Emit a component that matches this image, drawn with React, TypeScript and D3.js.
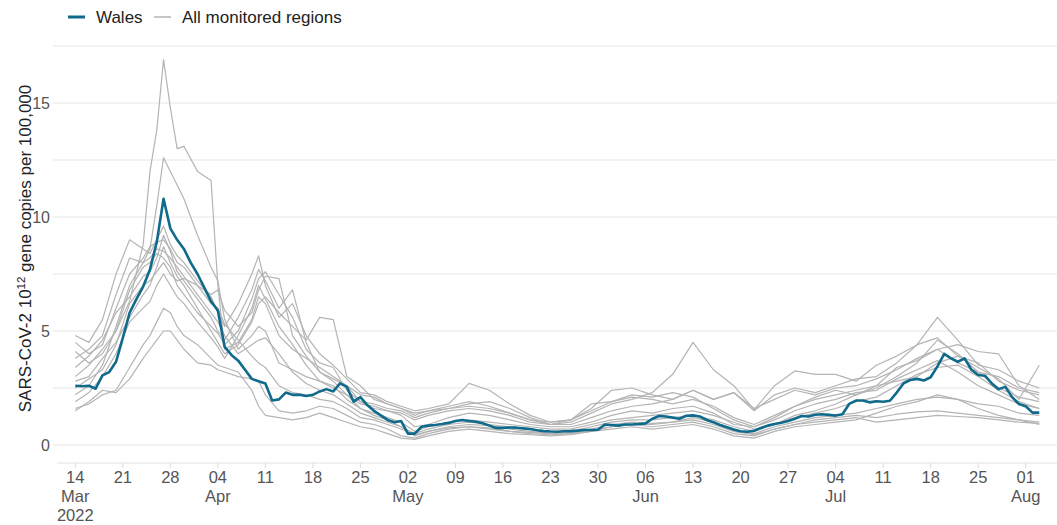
import React from 'react';
import * as d3 from 'd3';

const START = Date.UTC(2022, 2, 14);
const END_TICK = Date.UTC(2022, 7, 1);
const DAY = 86400000;

// Wales, daily from 14 Mar 2022
const WALES = [
  2.6, 2.58, 2.6, 2.47, 3.05, 3.2, 3.65, 4.7, 5.8, 6.4,
  6.95, 7.7, 8.9, 10.8, 9.5, 9.0, 8.6, 8.0, 7.5, 6.9,
  6.3, 5.9, 4.3, 3.95, 3.7, 3.3, 2.9, 2.8, 2.7, 1.95,
  2.0, 2.3, 2.2, 2.2, 2.15, 2.2, 2.35, 2.45, 2.35, 2.7,
  2.55, 1.9, 2.1, 1.75, 1.5, 1.3, 1.1, 1.0, 1.05, 0.5,
  0.5, 0.8, 0.85, 0.88, 0.92, 0.97, 1.05, 1.1, 1.05, 1.02,
  0.95, 0.85, 0.75, 0.75, 0.77, 0.76, 0.73, 0.7, 0.65, 0.61,
  0.59, 0.58, 0.6, 0.61, 0.63, 0.66, 0.66, 0.67, 0.9, 0.88,
  0.85, 0.9, 0.9, 0.92, 0.95, 1.15, 1.27, 1.25, 1.2, 1.15,
  1.28, 1.3, 1.25, 1.1, 1.0, 0.88, 0.78, 0.68, 0.6, 0.58,
  0.62, 0.75, 0.85, 0.92, 0.98, 1.05, 1.15, 1.27, 1.25, 1.33,
  1.35, 1.32, 1.29, 1.35, 1.8, 1.95, 1.95, 1.87, 1.92, 1.9,
  1.94, 2.3, 2.7, 2.85, 2.9, 2.83, 2.97, 3.45, 4.0, 3.8,
  3.65, 3.8, 3.3, 3.07, 3.04, 2.7, 2.45, 2.55, 2.1, 1.8,
  1.7, 1.42, 1.42,
];

// sample days (offset from 14 Mar 2022) for the other monitored regions
const GRAY_DAYS = [
  0, 2, 4, 6, 8, 10,
  11, 12, 13, 14, 15, 16,
  18, 20, 21, 22,
  24, 26, 27, 28,
  30, 32, 34, 36, 38, 40, 42, 44, 46, 48, 50, 52,
  55, 58, 61, 64, 67, 70, 73, 76, 79, 82, 85, 88, 91, 94, 97, 100,
  103, 106, 109, 112, 115, 118, 121, 124, 127, 130, 133, 136, 139, 142,
];

const REGION_A = [
  3.0, 3.5, 4.2, 5.0, 6.3, 8.8,
  12.0, 13.8, 16.9, 14.8, 13.0, 13.1,
  12.0, 11.6, 7.0, 4.2,
  4.5, 5.5, 6.5, 6.2,
  4.8, 4.2, 3.8, 3.4, 3.0, 2.6, 1.9, 1.6, 1.5, 1.3, 0.8, 0.9,
  1.2, 1.4, 1.3, 1.1, 0.9, 0.8, 0.8, 1.0, 1.3, 1.5, 1.4, 1.6, 1.7, 1.4, 0.9, 0.8,
  1.1, 1.5, 1.8, 2.0, 2.3, 2.4, 2.9, 3.3, 3.7, 3.2, 2.6, 2.2, 1.8, 1.6,
];
const REGION_B = [
  2.2, 2.6, 3.5, 5.2, 7.0, 8.0,
  8.6, 10.5, 12.6, 12.0, 11.4, 10.8,
  9.2, 7.8, 7.2, 5.5,
  4.2, 4.8, 5.2, 5.0,
  3.6, 3.3, 3.0, 2.8, 2.6, 2.0, 1.6, 1.4, 1.2, 1.0, 0.6, 0.8,
  1.0, 1.1, 1.0, 0.9, 0.8, 0.7, 0.7, 0.9, 1.1, 1.2, 1.3, 1.4, 1.5, 1.3, 1.0, 0.7,
  0.9, 1.3, 1.5, 1.8, 2.2, 2.5, 3.0, 3.6, 4.6, 4.0, 3.2, 2.5, 2.1, 1.9,
];
const REGION_C = [
  4.8, 4.5, 5.5, 7.5, 9.0, 8.6,
  8.4, 9.0, 9.6, 8.8, 8.3, 8.0,
  7.2, 6.5, 5.8, 5.2,
  6.2, 7.5, 8.3, 7.0,
  5.6, 6.2, 4.8, 4.0, 3.5, 2.9, 2.3, 2.2, 1.9, 1.7, 1.5, 1.6,
  1.8, 2.7, 2.4, 1.8, 1.3, 1.0, 1.1, 1.6, 2.4, 2.5, 2.2, 2.0, 2.4, 2.0, 2.3, 1.5,
  2.2, 2.5, 2.3, 2.6, 2.9, 3.0, 3.6, 4.4, 4.7, 3.9, 3.6, 2.8, 2.4, 2.2,
];
const REGION_D = [
  3.4, 3.9, 4.6, 5.8, 6.5, 7.4,
  7.6, 8.2, 9.2, 8.5, 7.6, 7.2,
  6.4, 5.6, 5.0, 4.6,
  5.6, 6.8, 7.7, 7.2,
  6.0, 6.8, 4.5, 3.2, 2.8, 2.2, 1.8, 1.7, 1.5, 1.4, 1.1, 1.3,
  1.5, 1.6, 1.5, 1.3, 1.0, 0.9, 1.0, 1.4, 1.8, 2.0, 2.3, 3.1, 4.5, 3.3, 2.6, 1.55,
  2.6, 3.25, 3.1, 3.1, 2.8, 3.5, 3.9, 4.4, 5.6, 4.6, 3.5, 3.3, 2.8, 2.5,
];
const REGION_E = [
  2.8, 3.0, 3.8, 4.5, 5.6, 6.6,
  7.0, 7.8, 8.7, 8.0, 7.4, 7.0,
  6.0, 5.0, 4.5, 4.0,
  4.4, 5.4, 6.2, 6.5,
  5.8, 5.2, 4.6, 5.6, 5.5, 3.0, 2.6, 2.0, 1.8, 1.6, 1.3, 1.5,
  1.7, 1.9, 1.7, 1.4, 1.1, 0.9, 0.9, 1.2, 1.5, 1.7, 1.8, 2.0, 2.4, 2.0, 2.3, 1.6,
  2.0, 2.4, 2.2, 2.5, 2.6, 2.9, 3.3, 3.8, 4.2, 4.4, 4.1, 4.0, 2.6, 2.0,
];
const REGION_F = [
  1.5, 1.9, 2.4, 2.3, 2.9, 3.8,
  4.2, 4.6, 5.0, 5.0, 4.6, 4.2,
  3.6, 3.5, 3.3, 3.2,
  3.0, 2.9, 2.8, 2.2,
  1.5, 1.4, 1.5, 1.7, 1.6, 1.3, 1.0, 0.9, 0.7, 0.4, 0.3, 0.5,
  0.7, 0.8, 0.7, 0.6, 0.5, 0.45, 0.5, 0.6, 0.8, 0.9, 0.8, 0.9, 1.0, 0.8, 0.5, 0.4,
  0.7, 0.9, 1.0, 1.1, 1.2, 1.0, 1.1, 1.2, 1.3, 1.25, 1.2, 1.1, 1.0, 0.95,
];
const REGION_G = [
  1.9, 2.3, 3.0, 4.0, 5.4, 6.0,
  6.3, 7.0, 7.5, 7.0, 6.5, 6.2,
  5.4, 4.7, 4.3, 3.8,
  4.8, 6.0, 7.0, 6.4,
  5.2, 4.4, 3.5, 2.8, 2.5, 2.2, 1.6, 1.3, 1.1, 0.8, 0.5, 0.7,
  0.9, 1.0, 0.9, 0.8, 0.7, 0.6, 0.6, 0.8, 1.0, 1.1, 1.1, 1.2, 1.3, 1.1, 0.8, 0.6,
  0.9, 1.2, 1.4, 1.6, 1.9, 2.1, 2.6, 3.1, 3.4, 3.5, 3.0, 2.4, 1.9, 1.6,
];
const REGION_H = [
  4.1, 3.6, 4.0, 5.0, 6.8, 7.8,
  8.0, 8.4, 8.2, 7.8, 7.0, 6.6,
  5.8, 5.2, 4.9, 4.4,
  5.0, 6.4, 7.3, 7.6,
  6.6, 5.6, 4.2, 3.6, 3.4, 2.4, 1.9, 1.8, 1.6, 1.5, 1.2, 1.4,
  1.6, 1.7, 1.6, 1.4, 1.1, 1.0, 1.1, 1.5, 1.9, 2.1, 2.0, 1.8, 2.0, 1.7, 1.2, 0.9,
  1.3, 1.7, 2.0, 2.2, 2.4, 2.6, 2.8, 3.0, 3.6, 3.9, 3.4, 2.9, 2.0, 3.5,
];
const REGION_I = [
  1.6, 1.8, 2.2, 2.4, 3.4, 4.4,
  4.8, 5.4, 6.0, 5.8, 5.2, 4.8,
  4.4, 3.8, 3.5, 3.4,
  3.2, 2.4, 1.7, 1.3,
  1.2, 1.1, 1.2, 1.4, 1.2, 1.0, 0.8, 0.7, 0.5, 0.3, 0.25, 0.4,
  0.6, 0.7, 0.6, 0.5, 0.45, 0.4, 0.45, 0.6, 0.7, 0.8, 0.7, 0.8, 0.9, 0.7, 0.4, 0.3,
  0.6, 0.8, 0.9, 1.0, 1.1, 1.4, 1.7, 1.9, 2.2, 2.0, 1.6, 1.3, 1.1, 0.9,
];
const REGION_J = [
  2.5, 2.9, 3.3, 4.4, 6.2, 7.0,
  7.2, 7.6, 8.0, 7.5, 7.2, 7.3,
  7.0, 6.6, 6.8, 5.9,
  5.2, 5.8, 6.8, 7.4,
  7.3, 4.8, 3.9, 3.2, 2.9, 2.6, 2.2, 2.1, 1.8, 1.6, 1.4, 1.5,
  1.6, 1.8, 1.9, 1.6, 1.2, 0.9, 1.1, 1.8, 1.9, 2.2, 2.1, 2.3, 2.1, 1.6, 1.1, 0.8,
  1.2, 1.7, 2.1, 2.4, 2.2, 2.6, 3.4, 3.7, 4.2, 3.6, 3.2, 3.0, 2.5, 2.3,
];
const REGION_K = [
  3.8, 4.2, 4.8, 6.6, 8.2, 8.0,
  8.2, 8.6, 8.5, 8.2, 7.8, 7.4,
  6.6, 5.8, 5.4, 4.8,
  4.0, 4.4, 4.6, 4.7,
  4.0, 3.2, 2.7, 2.4, 2.2, 1.8, 1.4, 1.2, 1.0, 0.8, 0.4, 0.6,
  0.8, 0.9, 0.85, 0.7, 0.6, 0.5, 0.55, 0.7, 0.9, 1.0, 0.95, 1.0, 1.2, 1.0, 0.6, 0.5,
  0.8, 1.0, 1.2, 1.3, 1.4, 1.6, 1.8, 2.0, 2.1, 2.0, 1.8, 1.7, 1.4, 1.3,
];
const REGION_L = [
  4.5, 4.0, 4.4, 6.0, 7.5, 8.2,
  8.7, 8.9, 9.0, 8.6, 8.0, 7.8,
  7.0, 6.2, 6.0, 5.3,
  4.6, 3.9, 3.6, 3.4,
  2.6, 2.3, 2.2, 2.0, 1.9, 1.6, 1.2, 1.1, 0.9, 0.7, 0.45, 0.6,
  0.75, 0.8, 0.75, 0.6, 0.55, 0.5, 0.5, 0.65, 0.8, 0.9, 0.9, 1.0, 1.1, 0.9, 0.6, 0.45,
  0.7, 0.9, 1.1, 1.2, 1.3, 1.2, 1.35, 1.45, 1.5, 1.4, 1.3, 1.2, 1.1, 1.0,
];
const REGIONS = [
  REGION_A, REGION_B, REGION_C, REGION_D, REGION_E, REGION_F,
  REGION_G, REGION_H, REGION_I, REGION_J, REGION_K, REGION_L,
];

const Y_LABEL_TICKS = [0, 5, 10, 15];
const Y_GRID = [0, 2.5, 5, 7.5, 10, 12.5, 15, 17.5];
const LEGEND = ['Wales', 'All monitored regions'];

const WALES_COLOR = '#0f6a8b';
const GRAY_COLOR = '#b4b4b4';
const FONT = '"Liberation Sans", Arial, Helvetica, sans-serif';

export default function App() {
  const W = 1057;
  const H = 525;
  const x = d3.scaleUtc().domain([new Date(START), new Date(END_TICK)]).range([75.3, 1025.7]);
  const y = d3.scaleLinear().domain([0, 17.5]).range([445, 46]);
  const dayX = (d: number) => x(new Date(START + d * DAY));

  const line = d3
    .line<[number, number]>()
    .x((d) => dayX(d[0]))
    .y((d) => y(d[1]));

  const walesPts: [number, number][] = WALES.map((v, i) => [i, v]);
  const regionPaths = REGIONS.map((r) => line(r.map((v, i) => [GRAY_DAYS[i], v] as [number, number])) || '');

  const ticks = d3.utcMonday.range(new Date(START), new Date(END_TICK + DAY));
  const fmtDay = d3.utcFormat('%d');
  const fmtMon = d3.utcFormat('%b');
  const fmtYear = d3.utcFormat('%Y');

  const axisY = 463;

  return (
    <svg width={W} height={H} style={{ position: 'absolute', left: 0, top: 0, background: '#fff' }} fontFamily={FONT}>
      {/* legend */}
      <g>
        <line x1={68} x2={85} y1={17} y2={17} stroke={WALES_COLOR} strokeWidth={3} />
        <text x={96} y={23} fontSize={17} fill="#222">{LEGEND[0]}</text>
        <line x1={154} x2={171} y1={17} y2={17} stroke={GRAY_COLOR} strokeWidth={1.5} />
        <text x={182} y={23} fontSize={17} fill="#222">{LEGEND[1]}</text>
      </g>

      {/* grid */}
      {Y_GRID.map((g) => (
        <g key={g}>
          <line x1={53} x2={W} y1={y(g)} y2={y(g)} stroke="#e6e6e6" strokeWidth={1} />
        </g>
      ))}
      {Y_LABEL_TICKS.map((t) => (
        <text key={t} x={50} y={y(t) + 5.5} fontSize={16} fill="#555" textAnchor="end">
          {t}
        </text>
      ))}

      {/* y title */}
      <text transform="translate(30.5,248.5) rotate(-90)" fontSize={17} fill="#222" textAnchor="middle">
        SARS-CoV-2 10
        <tspan fontSize={11.5} dy={-6}>12</tspan>
        <tspan dy={6}> gene copies per 100,000</tspan>
      </text>

      {/* x axis */}
      <line x1={57} x2={W} y1={axisY} y2={axisY} stroke="#e2e2e2" strokeWidth={1} />
      {ticks.map((t, i) => {
        const px = x(t);
        const prev = i > 0 ? ticks[i - 1] : null;
        const newMonth = !prev || prev.getUTCMonth() !== t.getUTCMonth();
        return (
          <g key={i}>
            <line x1={px} x2={px} y1={axisY} y2={axisY + 5} stroke="#dadada" />
            <text x={px} y={483} fontSize={16.5} fill="#555" textAnchor="middle">
              {fmtDay(t)}
            </text>
            {newMonth && (
              <text x={px} y={501.5} fontSize={16.5} fill="#555" textAnchor="middle">
                {fmtMon(t)}
              </text>
            )}
            {i === 0 && (
              <text x={px} y={520.5} fontSize={16.5} fill="#555" textAnchor="middle">
                {fmtYear(t)}
              </text>
            )}
          </g>
        );
      })}

      {/* series */}
      {regionPaths.map((p, i) => (
        <path key={i} d={p} fill="none" stroke={GRAY_COLOR} strokeWidth={1.2} strokeLinejoin="round" />
      ))}
      <path d={line(walesPts) || ''} fill="none" stroke={WALES_COLOR} strokeWidth={2.6} strokeLinejoin="round" />
    </svg>
  );
}
